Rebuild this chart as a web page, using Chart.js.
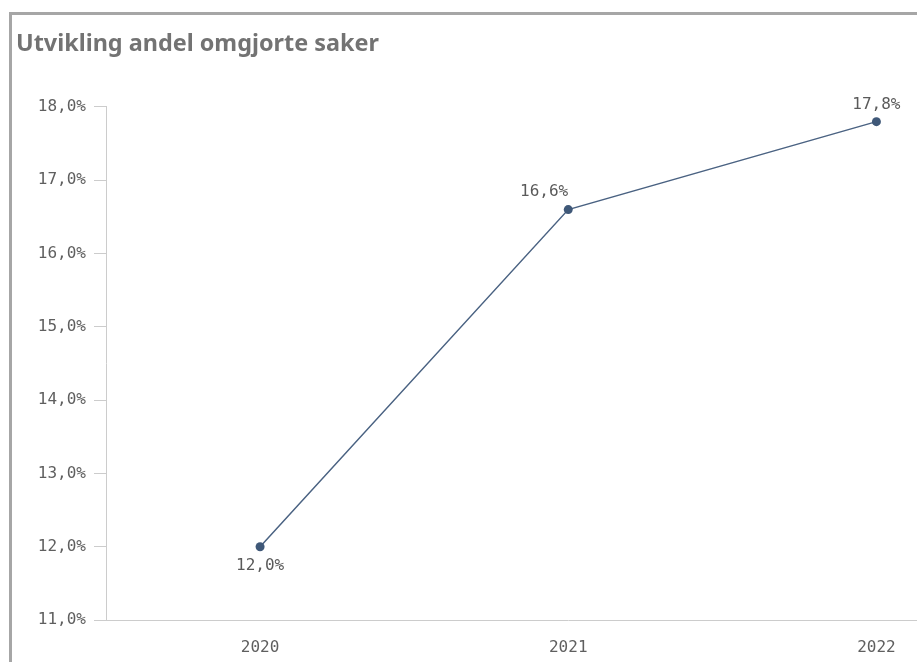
<!DOCTYPE html>
<html>
<head>
<meta charset="utf-8">
<script src="https://cdn.jsdelivr.net/npm/chart.js@4/dist/chart.umd.min.js"></script>
<style>
  html, body { margin: 0; padding: 0; background: #fff; overflow: hidden; }
  .frame { position: absolute; left: 9px; top: 12px; width: 1200px; height: 700px;
           border-left: 3px solid #a6a6a6; border-top: 3px solid #a6a6a6; }
  canvas { position: absolute; left: 12px; top: 15px; }
</style>
</head>
<body>
<div class="frame"></div>
<canvas id="chart" width="1023" height="647"></canvas>
<script>
// data
var years = ['2020', '2021', '2022'];
var share = [12.0, 16.6, 17.8];
var labelPlace = ['below', 'left', 'above'];

var yMin = 11, yMax = 18, yStep = 1;

function pct(v) {
  return v.toFixed(1).replace('.', ',') + '%';
}

var monoFont = { family: '"DejaVu Sans Mono", monospace', size: 16 };

// draws the value next to each point
var valueLabels = {
  id: 'valueLabels',
  afterDatasetsDraw: function(chart) {
    var ctx = chart.ctx;
    var meta = chart.getDatasetMeta(0);
    ctx.save();
    ctx.font = '16px "DejaVu Sans Mono", monospace';
    ctx.fillStyle = '#5a5a5a';
    meta.data.forEach(function(pt, i) {
      var txt = pct(share[i]);
      var where = labelPlace[i];
      if (where === 'below') {
        ctx.textAlign = 'center'; ctx.textBaseline = 'top';
        ctx.fillText(txt, pt.x, pt.y + 11);
      } else if (where === 'left') {
        ctx.textAlign = 'right'; ctx.textBaseline = 'bottom';
        ctx.fillText(txt, pt.x, pt.y - 10);
      } else {
        ctx.textAlign = 'center'; ctx.textBaseline = 'bottom';
        ctx.fillText(txt, pt.x, pt.y - 9);
      }
    });
    ctx.restore();
  }
};

var ctx = document.getElementById('chart').getContext('2d');
var lineChart = new Chart(ctx, {
  type: 'line',
  data: {
    labels: years,
    datasets: [{
      data: share,
      borderColor: '#4a6282',
      backgroundColor: '#3f5878',
      borderWidth: 1.5,
      pointRadius: 4.5,
      pointBackgroundColor: '#3f5878',
      pointBorderWidth: 0,
      tension: 0
    }]
  },
  options: {
    responsive: false,
    animation: false,
    layout: { padding: { left: 4, right: 2, top: 0, bottom: 0 } },
    plugins: {
      legend: { display: false },
      tooltip: { enabled: false },
      title: {
        display: true,
        text: 'Utvikling andel omgjorte saker',
        align: 'start',
        color: '#737373',
        font: { family: '"Noto Sans", sans-serif', size: 23.4, weight: 'bold' },
        padding: { top: 15, bottom: 48.9 }
      }
    },
    scales: {
      x: {
        offset: true,
        grid: { drawOnChartArea: false, drawTicks: false },
        border: { color: '#cccccc', width: 1 },
        ticks: { color: '#5f5f5f', font: monoFont, padding: 18 },
        afterFit: function(s) { s.height = 42; }
      },
      y: {
        min: yMin,
        max: yMax,
        grid: { drawOnChartArea: false, tickLength: 12, color: '#cccccc' },
        border: { color: '#cccccc', width: 1 },
        ticks: {
          stepSize: yStep,
          color: '#5f5f5f',
          font: monoFont,
          padding: 8,
          callback: function(v) { return pct(v); }
        },
        afterFit: function(s) { s.width = 90; }
      }
    }
  },
  plugins: [valueLabels]
});
</script>
</body>
</html>
